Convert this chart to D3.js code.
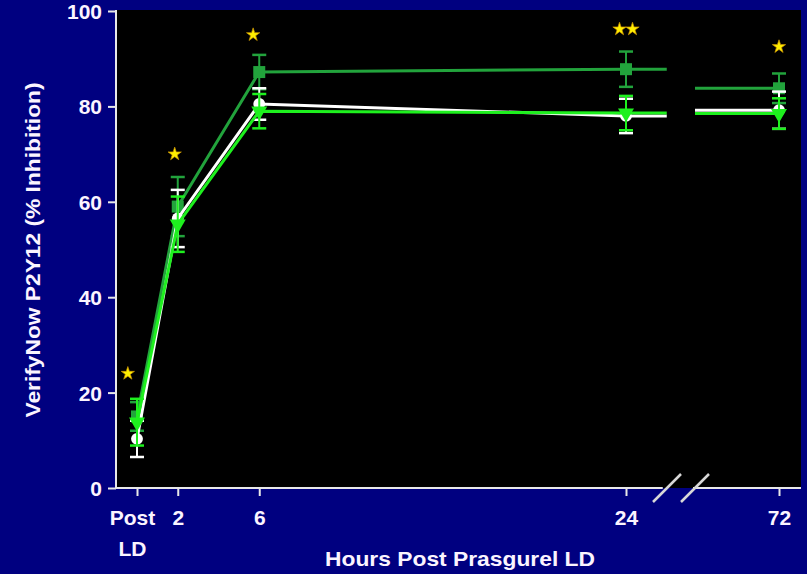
<html>
<head>
<script src="https://d3js.org/d3.v7.min.js"></script>
<style>
body { margin: 0; background: #000080; }
text { font-family: 'Liberation Sans', Arial, sans-serif; font-weight: bold; fill: #fbf4ff; }
</style>
</head>
<body>
<div id="chart"></div>
<script>
// hours after loading dose; 0 = "Post LD"
var hours = [0, 2, 6, 24, 72]
var tickLabels = ['Post|LD', '2', '6', '24', '72']
var yTicks = [0, 20, 40, 60, 80, 100]

// three groups, mean and error
var darkMean = [15, 59, 87.2, 87.8, 83.8]
var darkErr  = [3, 6.2, 3.6, 3.7, 3.1]
var whiteMean = [10.3, 56.5, 80.5, 78.0, 79.2]
var whiteErr  = [3.8, 6.0, 3.3, 3.6, 3.9]
var greenMean = [13.8, 55.3, 79.0, 78.6, 78.5]
var greenErr  = [4.9, 5.8, 3.6, 3.6, 3.2]

// significance stars: hour position, value, label
var starHours = [-0.45, 1.85, 5.7, 24, 72]
var starVals  = [24, 70, 95, 96.2, 92.5]
var starText  = ['*', '*', '*', '**', '*']

var W = 807, H = 574
var mLeft = 117, mRight = 801, mTop = 10, mBottom = 488

var svg = d3.select('#chart').append('svg')
    .attr('width', W)
    .attr('height', H)

svg.append('rect').attr('width', W).attr('height', H).attr('fill', '#000080')
svg.append('rect')
    .attr('x', mLeft).attr('y', mTop)
    .attr('width', mRight - mLeft).attr('height', mBottom - mTop)
    .attr('fill', '#000000')

var y = d3.scaleLinear().domain([0, 100]).range([mBottom, 11])
// broken x axis: linear up to 24 h, then a second piece for 72 h
var xA = d3.scaleLinear().domain([0, 24]).range([137, 626])
var xB = d3.scaleLinear().domain([66, 72]).range([695, 779])
var breakHour = 26
function xpos(h) { return h <= 24 ? xA(h) : xB(h) }

// y axis
var yAxis = svg.append('g')
    .attr('transform', 'translate(' + (mLeft - 1) + ',0)')
    .call(d3.axisLeft(y).tickValues(yTicks).tickSize(8).tickPadding(6))
yAxis.select('.domain').remove()
yAxis.selectAll('line').attr('stroke', '#e8e8e8').attr('stroke-width', 2)
yAxis.selectAll('text').style('font-size', '21px').attr('dy', '0.36em')
svg.append('line')
    .attr('x1', mLeft - 1).attr('x2', mLeft - 1)
    .attr('y1', mTop).attr('y2', mBottom + 1)
    .attr('stroke', '#e8e8e8').attr('stroke-width', 2)

// x axis, two pieces
function styleX(g) {
    g.select('.domain').remove()
    g.selectAll('line').attr('stroke', '#e8e8e8').attr('stroke-width', 2)
    g.selectAll('text').style('font-size', '21px')
}
var xa = svg.append('g')
    .attr('transform', 'translate(0,' + mBottom + ')')
    .call(d3.axisBottom(xA).tickValues(hours.slice(0, 4)).tickSize(8).tickPadding(14)
        .tickFormat(function(d) { return tickLabels[hours.indexOf(d)] }))
styleX(xa)
var xb = svg.append('g')
    .attr('transform', 'translate(0,' + mBottom + ')')
    .call(d3.axisBottom(xB).tickValues([72]).tickSize(8).tickPadding(14)
        .tickFormat(function(d) { return tickLabels[hours.indexOf(d)] }))
styleX(xb)

// two-line "Post / LD" label
xa.selectAll('text').each(function(d) {
    var t = d3.select(this)
    var s = t.text()
    if (s.indexOf('|') >= 0) {
        var parts = s.split('|')
        t.text(null).attr('x', -5)
        t.append('tspan').attr('x', -5).text(parts[0])
        t.append('tspan').attr('x', -5).attr('dy', '1.5em').text(parts[1])
    }
})

var gapL = xA(breakHour), gapR = xB(66) - 2
svg.append('line')
    .attr('x1', mLeft - 2).attr('x2', gapL - 4)
    .attr('y1', mBottom).attr('y2', mBottom)
    .attr('stroke', '#e8e8e8').attr('stroke-width', 2)
svg.append('line')
    .attr('x1', gapR).attr('x2', mRight)
    .attr('y1', mBottom).attr('y2', mBottom)
    .attr('stroke', '#e8e8e8').attr('stroke-width', 2)
// break slashes
;[653, 681].forEach(function(x0) {
    svg.append('line')
        .attr('x1', x0).attr('y1', mBottom + 14)
        .attr('x2', x0 + 28).attr('y2', mBottom - 14)
        .attr('stroke', '#d8d8d8').attr('stroke-width', 2.5)
})

// axis titles
svg.append('text')
    .attr('x', 460).attr('y', 566)
    .attr('text-anchor', 'middle')
    .style('font-size', '21px')
    .attr('textLength', 270).attr('lengthAdjust', 'spacingAndGlyphs')
    .text('Hours Post Prasgurel LD')
svg.append('text')
    .attr('transform', 'translate(40,250) rotate(-90)')
    .attr('text-anchor', 'middle')
    .style('font-size', '21px')
    .attr('textLength', 335).attr('lengthAdjust', 'spacingAndGlyphs')
    .text('VerifyNow P2Y12 (% Inhibition)')

// series
var series = [
    { mean: darkMean, err: darkErr, color: '#22a33c', shape: d3.symbolSquare, size: 144, lw: 3 },
    { mean: whiteMean, err: whiteErr, color: '#ffffff', shape: d3.symbolCircle, size: 110, lw: 3 },
    { mean: greenMean, err: greenErr, color: '#1ef01e', shape: d3.symbolTriangle, size: 110, lw: 3, flip: true }
]

var line = d3.line().x(function(d) { return d[0] }).y(function(d) { return d[1] })

series.forEach(function(s) {
    var g = svg.append('g')
    var pre = hours.slice(0, 4).map(function(h, i) { return [xA(h), y(s.mean[i])] })
    pre.push([xA(breakHour), y(s.mean[3])])
    var post = [[xB(66), y(s.mean[4])], [xB(72), y(s.mean[4])]]
    g.selectAll('path.ln').data([pre, post]).enter().append('path')
        .attr('class', 'ln')
        .attr('d', line)
        .attr('fill', 'none')
        .attr('stroke', s.color)
        .attr('stroke-width', s.lw)

    hours.forEach(function(h, i) {
        var cx = xpos(h)
        var hi = y(s.mean[i] + s.err[i]), lo = y(s.mean[i] - s.err[i])
        g.append('line').attr('x1', cx).attr('x2', cx).attr('y1', hi).attr('y2', lo)
            .attr('stroke', s.color).attr('stroke-width', 2)
        ;[hi, lo].forEach(function(yy) {
            g.append('line').attr('x1', cx - 7).attr('x2', cx + 7).attr('y1', yy).attr('y2', yy)
                .attr('stroke', s.color).attr('stroke-width', 2.5)
        })
        g.append('path')
            .attr('d', d3.symbol().type(s.shape).size(s.size)())
            .attr('transform', 'translate(' + cx + ',' + y(s.mean[i]) + ')' + (s.flip ? ' rotate(180)' : ''))
            .attr('fill', s.color)
    })
})

// stars
var star = d3.symbol().type(d3.symbolStar).size(55)
starHours.forEach(function(h, i) {
    var n = starText[i].length
    for (var k = 0; k < n; k++) {
        var cx = xpos(h) + (k - (n - 1) / 2) * 13
        svg.append('path')
            .attr('d', star())
            .attr('transform', 'translate(' + cx + ',' + y(starVals[i]) + ')')
            .attr('fill', '#ffee00')
            .attr('stroke', '#c89000')
            .attr('stroke-width', 0.7)
    }
})
</script>
</body>
</html>
